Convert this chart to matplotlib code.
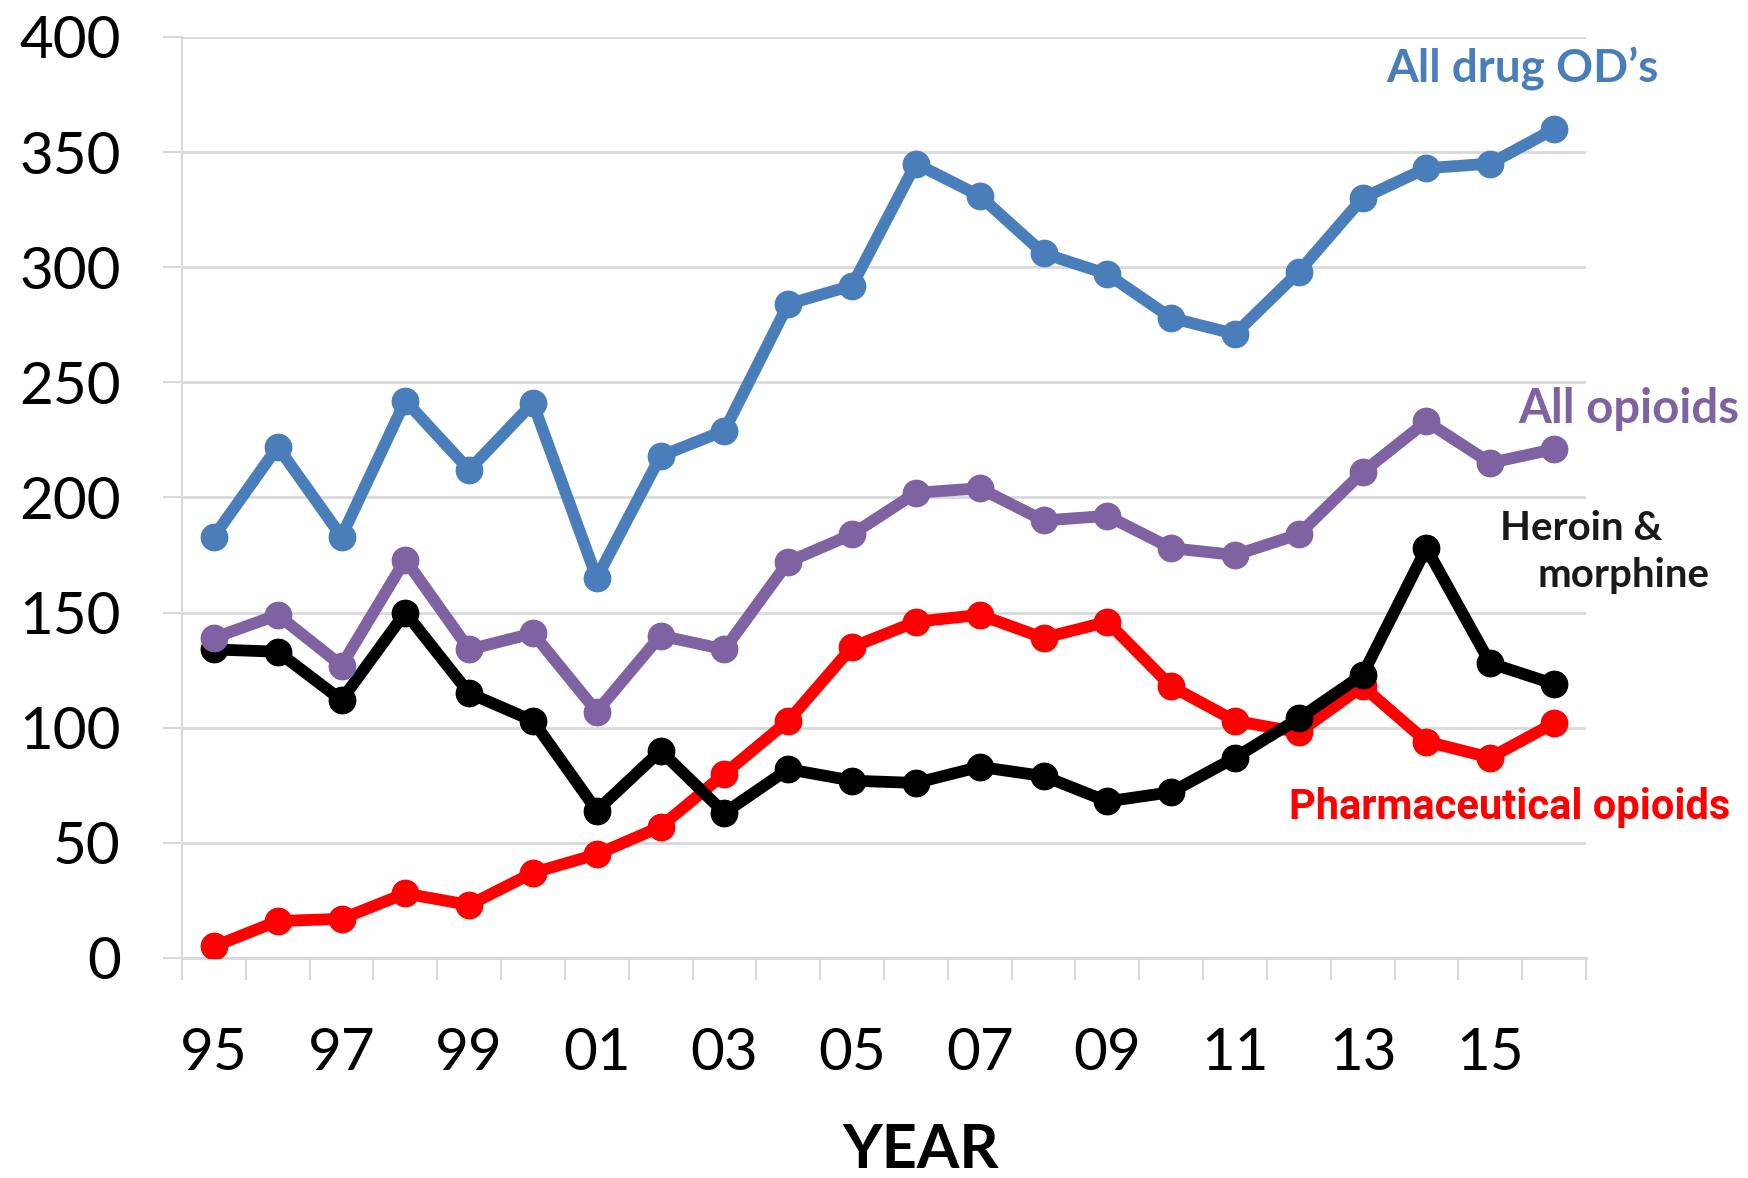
import matplotlib
matplotlib.use("Agg")
import matplotlib.pyplot as plt

# overdose deaths by year
years = ["95", "96", "97", "98", "99", "00", "01", "02", "03", "04", "05",
         "06", "07", "08", "09", "10", "11", "12", "13", "14", "15", "16"]

all_drug = [183, 222, 183, 242, 212, 241, 165, 218, 229, 284, 292,
            345, 331, 306, 297, 278, 271, 298, 330, 343, 345, 360]
all_opioids = [139, 149, 127, 173, 134, 141, 107, 140, 134, 172, 184,
               202, 204, 190, 192, 178, 175, 184, 211, 233, 215, 221]
heroin_morphine = [134, 133, 112, 150, 115, 103, 64, 90, 63, 82, 77,
                   76, 83, 79, 68, 72, 87, 104, 123, 178, 128, 119]
pharma_opioids = [5, 16, 17, 28, 23, 37, 45, 57, 80, 103, 135,
                  146, 149, 139, 146, 118, 103, 98, 118, 94, 87, 102]

BLUE = "#4a7ebb"
PURPLE = "#7f62a1"
RED = "#ff0000"
GRID = "#d9d9d9"

plt.rcParams["font.family"] = ["Lato", "DejaVu Sans"]

fig = plt.figure(figsize=(17.48, 11.78), dpi=100)
ax = fig.add_axes([0.1041, 0.1868, 0.8032, 0.7818])

x = list(range(len(years)))
lw, ms = 8.5, 19
ax.plot(x, pharma_opioids, color=RED, lw=lw, marker="o", ms=ms, zorder=3)
ax.plot(x, heroin_morphine, color="black", lw=lw, marker="o", ms=ms, zorder=4)
ax.plot(x, all_opioids, color=PURPLE, lw=lw, marker="o", ms=ms, zorder=5)
ax.plot(x, all_drug, color=BLUE, lw=lw, marker="o", ms=ms, zorder=6)

ax.set_ylim(0, 400)
ax.set_xlim(-0.5, len(years) - 0.5)

# y axis: gridlines + outward gray ticks
ax.set_yticks(range(0, 401, 50))
ax.yaxis.grid(True, color=GRID, lw=2, zorder=0)
ax.tick_params(axis="y", length=14, width=1.5, color=GRID, pad=30,
               labelsize=42)

# x axis: ticks between categories, labels every other year
ax.set_xticks([i - 0.5 for i in range(len(years) + 1)])
ax.set_xticklabels([])
ax.tick_params(axis="x", which="major", length=16, width=1.5, color=GRID)
ax.set_xticks(x[::2], minor=True)
ax.set_xticklabels(years[::2], minor=True)
ax.tick_params(axis="x", which="minor", length=0, pad=50, labelsize=42)

for s in ["top", "right"]:
    ax.spines[s].set_visible(False)
ax.spines["left"].set_color(GRID)
ax.spines["left"].set_linewidth(1.5)
ax.spines["bottom"].set_color(GRID)
ax.spines["bottom"].set_linewidth(2)
ax.set_axisbelow(True)

ax.set_xlabel("YEAR", fontsize=44, fontweight="bold", labelpad=30)
ax.xaxis.label.set_x(0.526)

# series labels
fig.text(1522 / 1748, 1 - 69 / 1178, "All drug OD\u2019s", color=BLUE,
         fontsize=33, fontweight="bold", ha="center", va="center")
fig.text(1629 / 1748, 1 - 409 / 1178, "All opioids", color=PURPLE,
         fontsize=34, fontweight="bold", ha="center", va="center")
fig.text(1581 / 1748, 1 - 528 / 1178, "Heroin &", color="#1a1a1a",
         fontsize=29, fontweight="bold", ha="center", va="center")
fig.text(1624 / 1748, 1 - 575 / 1178, "morphine", color="#1a1a1a",
         fontsize=29, fontweight="bold", ha="center", va="center")
fig.text(1510 / 1748, 1 - 807 / 1178, "Pharmaceutical opioids", color=RED,
         fontsize=30, fontweight="bold", ha="center", va="center",
         family=["Roboto", "DejaVu Sans"])

fig.savefig("out.png", dpi=100)
